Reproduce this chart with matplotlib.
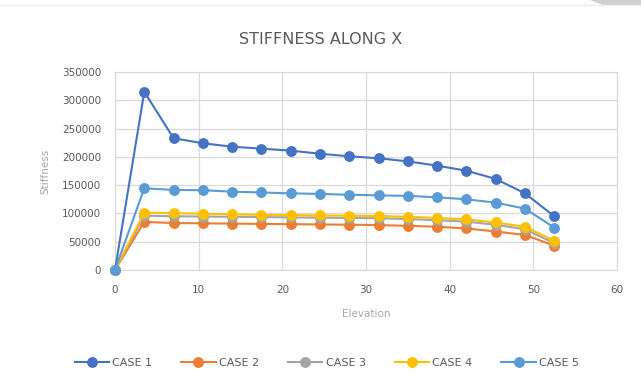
import matplotlib
matplotlib.use("Agg")
import matplotlib.pyplot as plt
from matplotlib.patches import Polygon

elevation = [0, 3.5, 7, 10.5, 14, 17.5, 21, 24.5, 28, 31.5, 35, 38.5, 42, 45.5, 49, 52.5]
case1 = [0, 315000, 233000, 224000, 218000, 214500, 211000, 205500, 201000, 197500,
         192000, 184500, 175500, 161000, 135500, 95000]
case2 = [0, 85000, 83000, 82500, 82000, 81500, 81000, 80500, 80000, 79500,
         78000, 76500, 73500, 68000, 62000, 43000]
case3 = [0, 96000, 95000, 94500, 94000, 93500, 93000, 92500, 92000, 91500,
         90000, 88000, 85500, 80000, 72000, 47500]
case4 = [0, 101500, 100500, 99500, 98500, 97500, 97000, 96500, 96000, 95500,
         94000, 92000, 89500, 84000, 76500, 51500]
case5 = [0, 144500, 141500, 141000, 138500, 137000, 135500, 134500, 133000, 132000,
         131000, 128500, 125000, 119000, 108500, 75000]

series_names = ["CASE 1", "CASE 2", "CASE 3", "CASE 4", "CASE 5"]
series_values = [case1, case2, case3, case4, case5]
colors = ["#4472C4", "#ED7D31", "#A5A5A5", "#FFC000", "#5B9BD5"]

x_ticks = [0, 10, 20, 30, 40, 50, 60]
y_ticks = [0, 50000, 100000, 150000, 200000, 250000, 300000, 350000]

plt.rcParams['font.family'] = ['DejaVu Sans']
text_color = "#595959"

fig = plt.figure(figsize=(6.41, 3.85), dpi=100)
ax = fig.add_axes([115 / 641, 1 - 270 / 385, (617 - 115) / 641, (270 - 72) / 385])

for name, vals, col in zip(series_names, series_values, colors):
    ax.plot(elevation, vals, color=col, lw=1.5, marker="o", ms=6.8,
            markeredgecolor=col, label=name, clip_on=False, zorder=3)

ax.set_xlim(0, 60)
ax.set_ylim(0, 350000)
ax.set_xticks(x_ticks)
ax.set_yticks(y_ticks)
ax.set_yticklabels([str(v) for v in y_ticks])
ax.grid(True, color="#D9D9D9", lw=0.9)
ax.set_axisbelow(True)
for side in ["top", "right", "left", "bottom"]:
    ax.spines[side].set_color("#D9D9D9")
ax.tick_params(length=0, labelsize=7.5, colors=text_color)
ax.tick_params(axis="y", pad=10)
ax.tick_params(axis="x", pad=11)

ax.set_xlabel("Elevation", fontsize=7.5, color="#A6A6A6", labelpad=10)
ax.set_ylabel("Stiffness", fontsize=7.5, color="#A6A6A6", labelpad=8)
fig.text(0.5, 1 - 40 / 385, "STIFFNESS ALONG X", ha="center", va="center",
         fontsize=11.5, color=text_color)

leg = fig.legend(loc="center", bbox_to_anchor=(0.51, 1 - 363 / 385), ncol=5,
                 frameon=False, fontsize=8, handlelength=3.1, columnspacing=2.6,
                 handletextpad=0.3)
for t in leg.get_texts():
    t.set_color(text_color)

# decorative corner of the chart frame
fig.patches.append(Polygon([[590 / 641, 1], [1, 1], [1, 1 - 6 / 385], [605 / 641, 1 - 6 / 385]],
                           closed=True, transform=fig.transFigure, facecolor="#D0D0D0",
                           edgecolor="none"))
fig.lines.append(plt.Line2D([0, 1], [1 - 5 / 385, 1 - 5 / 385], transform=fig.transFigure,
                            color="#EEEEEE", lw=1))

fig.savefig("out.png", dpi=100)
